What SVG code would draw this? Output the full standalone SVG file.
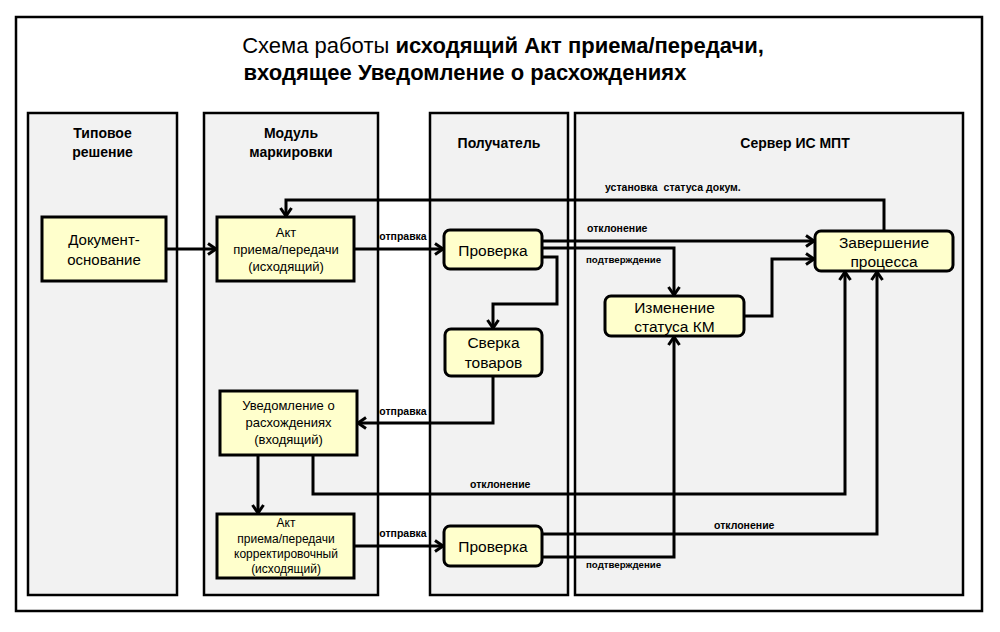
<svg xmlns="http://www.w3.org/2000/svg" width="1000" height="632" viewBox="0 0 1000 632">
  <style>
    text { font-family: "Liberation Sans", Arial, sans-serif; fill: #000; }
    .title { font-size: 22px; text-anchor: middle; }
    .hdr { font-size: 14px; font-weight: bold; text-anchor: middle; }
    .lane { fill: #F2F2F2; stroke: #000; stroke-width: 2.5; }
    .box { fill: #FFFFCC; stroke: #000; stroke-width: 3; }
    .nt { text-anchor: middle; }
    .lbl { font-weight: bold; font-size: 10.5px; }
    .conn path { fill: none; stroke: #000; stroke-width: 3; marker-end: url(#arr); }
  </style>
  <defs>
    <marker id="arr" markerUnits="userSpaceOnUse" viewBox="0 0 14 14" markerWidth="14" markerHeight="14" refX="12" refY="7" orient="auto" overflow="visible">
      <path d="M3,1.5 L11,7 L3,12.5" fill="none" stroke="#000" stroke-width="3"/>
    </marker>
  </defs>
  <rect x="0" y="0" width="1000" height="632" fill="#fff"/>
  <rect id="frame" x="16" y="17" width="966" height="594" fill="#fff" stroke="#000" stroke-width="2.5"/>
  <g id="title">
    <text class="title" x="503" y="53">Схема работы <tspan font-weight="bold">исходящий Акт приема/передачи,</tspan></text>
    <text class="title" x="465" y="80" font-weight="bold">входящее Уведомление о расхождениях</text>
  </g>
  <g id="lanes">
    <g id="lane-tipovoe">
      <rect class="lane" x="28" y="113" width="149" height="482"/>
      <text class="hdr" x="102.5" y="138">Типовое</text>
      <text class="hdr" x="102.5" y="157">решение</text>
    </g>
    <g id="lane-modul">
      <rect class="lane" x="204" y="113" width="174" height="482"/>
      <text class="hdr" x="291" y="138">Модуль</text>
      <text class="hdr" x="291" y="157">маркировки</text>
    </g>
    <g id="lane-poluchatel">
      <rect class="lane" x="430" y="113" width="138" height="482"/>
      <text class="hdr" x="499" y="148">Получатель</text>
    </g>
    <g id="lane-server">
      <rect class="lane" x="575" y="113" width="388" height="482"/>
      <text class="hdr" x="795" y="148">Сервер ИС МПТ</text>
    </g>
  </g>
  <g id="connectors" class="conn">
    <path d="M166,249 H217"/>
    <path d="M354,249 H444"/>
    <path d="M884,231 V200 H286 V217"/>
    <path d="M542,241 H815"/>
    <path d="M542,248 H674 V296"/>
    <path d="M542,257 H557 V304 H493 V329"/>
    <path d="M744,316 H772 V259 H815"/>
    <path d="M493,376 V423 H357"/>
    <path d="M258,455 V514"/>
    <path d="M313,455 V494 H845 V271"/>
    <path d="M354,546 H444"/>
    <path d="M542,534 H877 V271"/>
    <path d="M542,557 H674 V336"/>
  </g>
  <g id="labels">
    <text class="lbl" x="403" y="240" text-anchor="middle">отправка</text>
    <text class="lbl" x="403" y="415" text-anchor="middle">отправка</text>
    <text class="lbl" x="403" y="537" text-anchor="middle">отправка</text>
    <text class="lbl" x="605" y="191" font-size="11" style="white-space:pre">установка  статуса докум.</text>
    <text class="lbl" x="587" y="232" font-size="11">отклонение</text>
    <text class="lbl" x="586" y="263" style="font-size:9.7px">подтверждение</text>
    <text class="lbl" x="470" y="488" font-size="11">отклонение</text>
    <text class="lbl" x="714" y="529" font-size="11">отклонение</text>
    <text class="lbl" x="586" y="568" style="font-size:9.7px">подтверждение</text>
  </g>
  <g id="node-dokument">
    <rect class="box" x="42" y="217" width="124" height="64"/>
    <text class="nt" x="104" y="245" font-size="15">Документ-</text>
    <text class="nt" x="104" y="265" font-size="15">основание</text>
  </g>
  <g id="node-akt">
    <rect class="box" x="217" y="217" width="137" height="64"/>
    <text class="nt" x="286" y="237" font-size="13">Акт</text>
    <text class="nt" x="286" y="254" font-size="13">приема/передачи</text>
    <text class="nt" x="286" y="271" font-size="13">(исходящий)</text>
  </g>
  <g id="node-proverka1">
    <rect class="box" x="444" y="230" width="98" height="39" rx="6"/>
    <text class="nt" x="493" y="256" font-size="15.5">Проверка</text>
  </g>
  <g id="node-sverka">
    <rect class="box" x="445" y="329" width="97" height="47" rx="6"/>
    <text class="nt" x="493.5" y="348" font-size="15.5">Сверка</text>
    <text class="nt" x="493.5" y="368" font-size="15.5">товаров</text>
  </g>
  <g id="node-uvedomlenie">
    <rect class="box" x="220" y="391" width="137" height="64"/>
    <text class="nt" x="288.5" y="410" font-size="13">Уведомление о</text>
    <text class="nt" x="288.5" y="427" font-size="13">расхождениях</text>
    <text class="nt" x="288.5" y="444" font-size="13">(входящий)</text>
  </g>
  <g id="node-akt-korr">
    <rect class="box" x="217" y="514" width="137" height="64"/>
    <text class="nt" x="286" y="527" font-size="12">Акт</text>
    <text class="nt" x="286" y="543" font-size="12">приема/передачи</text>
    <text class="nt" x="286" y="558" font-size="12">корректировочный</text>
    <text class="nt" x="286" y="573" font-size="12">(исходящий)</text>
  </g>
  <g id="node-proverka2">
    <rect class="box" x="444" y="526" width="98" height="40" rx="6"/>
    <text class="nt" x="493" y="552" font-size="15.5">Проверка</text>
  </g>
  <g id="node-izmenenie">
    <rect class="box" x="605" y="296" width="139" height="40" rx="6"/>
    <text class="nt" x="674.5" y="313" font-size="15.5">Изменение</text>
    <text class="nt" x="674.5" y="332" font-size="15.5">статуса КМ</text>
  </g>
  <g id="node-zavershenie">
    <rect class="box" x="815" y="231" width="138" height="40" rx="6"/>
    <text class="nt" x="884" y="248" font-size="15.5">Завершение</text>
    <text class="nt" x="884" y="267" font-size="15.5">процесса</text>
  </g>
</svg>
